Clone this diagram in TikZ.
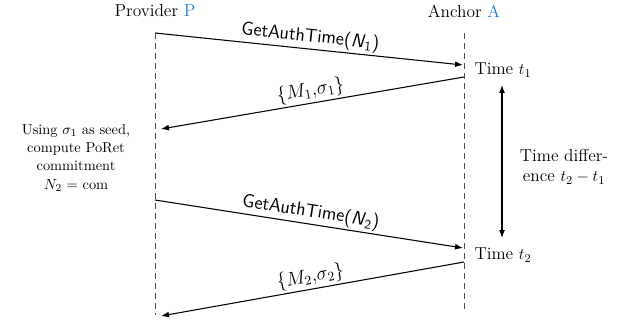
\documentclass[tikz,border=0pt]{standalone}
\usetikzlibrary{arrows.meta}
\definecolor{pblue}{RGB}{30,125,200}
\begin{document}
\begin{tikzpicture}[x=0.75pt,y=-0.75pt,
  big/.style={font=\fontsize{13}{15}\selectfont, inner sep=1pt},
  lifeline/.style={draw=black!70, dashed, dash pattern=on 4.5pt off 3pt, line width=0.6pt},
  msg/.style={draw, line width=0.8pt, -{Latex[length=6pt,width=4.5pt]}},
  msglbl/.style={sloped, above, inner sep=1.5pt, font=\fontsize{14}{16}\selectfont},
  authlbl/.style={sloped, above, inner sep=1.5pt, font=\fontsize{14}{16}\selectfont\sffamily}]
\useasboundingbox (0,0) rectangle (639,324);
\node[big] (prov) at (155,11) {Provider \textcolor{pblue}{P}};
\node[big] (anch) at (464,11) {Anchor \textcolor{pblue}{A}};
\coordinate (pt) at (155,33);
\coordinate (pb) at (155,315);
\coordinate (at) at (464,33);
\coordinate (ab) at (464,313);
\draw[lifeline] (pt) -- (pb);
\draw[lifeline] (at) -- (ab);
\coordinate (m1s) at (155,33);
\coordinate (m1e) at (463,65);
\coordinate (m2s) at (464,77);
\coordinate (m2e) at (161,129);
\coordinate (m3s) at (155,200);
\coordinate (m3e) at (463,248);
\coordinate (m4s) at (464,262);
\coordinate (m4e) at (161,316);
\draw[msg] (m1s) -- node[authlbl] {GetAuthTime(\textit{N}\textsubscript{1})} (m1e);
\draw[msg] (m2s) -- node[msglbl] {$\{M_1{,}\sigma_1\}$} (m2e);
\draw[msg] (m3s) -- node[authlbl] {GetAuthTime(\textit{N}\textsubscript{2})} (m3e);
\draw[msg] (m4s) -- node[msglbl] {$\{M_2{,}\sigma_2\}$} (m4e);
\node[big, anchor=west] (t1) at (473,70) {Time $t_1$};
\node[big, anchor=west] (t2) at (473,255) {Time $t_2$};
\coordinate (dtop) at (502,85);
\coordinate (dbot) at (502,238);
\draw[line width=0.8pt, {Latex[length=6pt,width=4.5pt]}-{Latex[length=6pt,width=4.5pt]}] (dtop) -- (dbot);
\node[font=\fontsize{13}{15}\selectfont, align=center, inner sep=1pt] (diff) at (564,167) {Time differ-\\ence $t_2-t_1$};
\node[font=\fontsize{10.8}{13.6}\selectfont, align=center, inner sep=1pt] (using) at (76,158) {Using $\sigma_1$ as seed,\\compute PoRet\\commitment\\$N_2$ = com};
\end{tikzpicture}
\end{document}
